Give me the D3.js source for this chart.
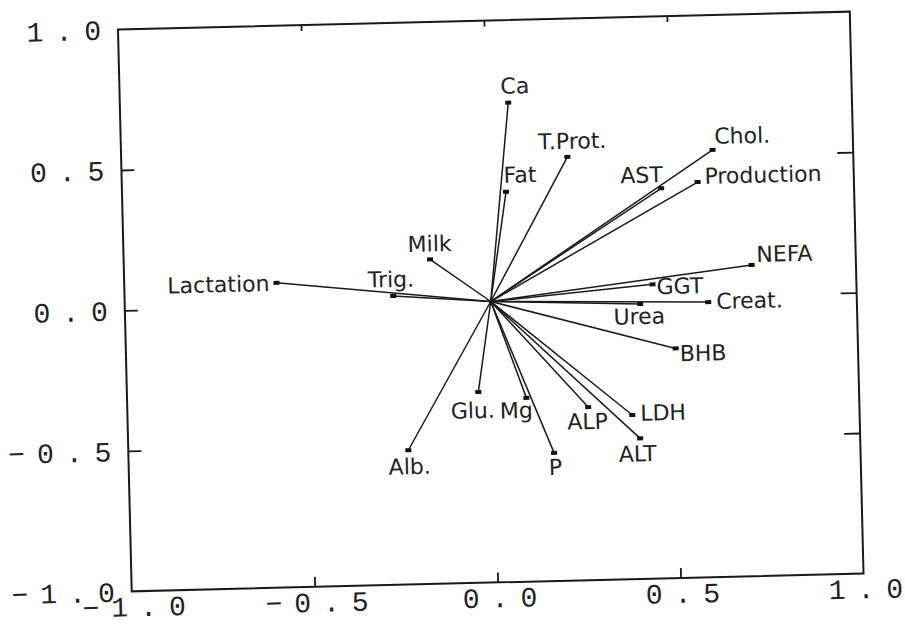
<!DOCTYPE html>
<html lang="en">
<head>
	<meta charset="UTF-8">
	<title>Loadings plot</title>
	<style>
		body { margin: 0; background: #fff; }
		.lbl { font-family: "DejaVu Sans", sans-serif; font-size: 22px; fill: #222; }
		.tk { font-family: "Liberation Mono", monospace; font-size: 28px; fill: #222; }
	</style>
</head>
<body>
	<svg id="chart" width="905" height="626"></svg>
	<script type="text/javascript" src="https://cdn.jsdelivr.net/npm/d3@7/dist/d3.min.js"></script>
	<script type="text/javascript">
		// variables and their loadings on the two factors
		var variables = ["Ca", "Fat", "T.Prot.", "Milk", "Trig.", "Lactation", "Chol.", "AST", "Production",
			"NEFA", "GGT", "Creat.", "Urea", "BHB", "Alb.", "Glu.", "Mg", "P", "ALP", "LDH", "ALT"];
		var factor1 = [0.061, 0.049, 0.219, -0.163, -0.266, -0.584, 0.616, 0.473, 0.573,
			0.715, 0.443, 0.594, 0.408, 0.502, -0.235, -0.040, 0.091, 0.163, 0.259, 0.379, 0.399];
		var factor2 = [0.706, 0.389, 0.508, 0.155, 0.028, 0.085, 0.520, 0.388, 0.407,
			0.107, 0.047, -0.021, -0.022, -0.183, -0.522, -0.321, -0.346, -0.544, -0.384, -0.416, -0.500];

		// axis ticks
		var tickValues = [-1, -0.5, 0, 0.5, 1];
		var tickLabels = ["\u22121.0", "\u22120.5", "0.0", "0.5", "1.0"];
		var innerTicks = [-0.5, 0, 0.5];

		// where each label sits relative to the end of its line: [dx, dy, anchor]
		var labelPlace = {
			"Ca": [7, -9, "middle"], "Fat": [-2, -9, "start"], "T.Prot.": [-29, -8, "start"],
			"Milk": [-22, -8, "start"], "Trig.": [-25, -9, "start"], "Lactation": [-7, 8, "end"],
			"Chol.": [2, -6, "start"], "AST": [2, -6, "end"], "Production": [7, 2, "start"],
			"NEFA": [5, -3, "start"], "GGT": [4, 10, "start"], "Creat.": [8, 7, "start"],
			"Urea": [-27, 20, "start"], "BHB": [4, 13, "start"], "Alb.": [1, 24, "middle"],
			"Glu.": [-28, 26, "start"], "Mg": [-27, 20, "start"], "P": [1, 22, "middle"],
			"ALP": [-1, 22, "middle"], "LDH": [8, 6, "start"], "ALT": [-3, 23, "middle"]
		};

		var cx = 490.75, cy = 301.5, hw = 366, hh = 281;
		var x = d3.scaleLinear().domain([-1, 1]).range([cx - hw, cx + hw]);
		var y = d3.scaleLinear().domain([-1, 1]).range([cy + hh, cy - hh]);

		var svg = d3.select("#chart");
		// the scanned page is slightly tilted
		var g = svg.append("g").attr("transform", "rotate(-1.4," + cx + "," + cy + ")");

		// frame
		g.append("rect")
			.attr("x", x(-1)).attr("y", y(1))
			.attr("width", x(1) - x(-1)).attr("height", y(-1) - y(1))
			.attr("fill", "none").attr("stroke", "#1a1a1a").attr("stroke-width", 2);

		// inward ticks on each side
		function ticks(axis, tr, len) {
			var a = g.append("g").attr("transform", tr)
				.call(axis.tickValues(innerTicks).tickSize(-len).tickFormat(""));
			a.select(".domain").remove();
			a.selectAll("line").attr("stroke", "#1a1a1a").attr("stroke-width", 1.8);
		}
		ticks(d3.axisLeft(y), "translate(" + x(-1) + ",0)", 13);
		ticks(d3.axisRight(y), "translate(" + x(1) + ",0)", 16);
		ticks(d3.axisBottom(x), "translate(0," + y(-1) + ")", 10);
		ticks(d3.axisTop(x), "translate(0," + y(1) + ")", 6);

		// wide plotter-style spacing between characters, no trailing gap
		function spacing(s) {
			return s.split("").map(function(c, i) { return i ? 12 : 0; }).join(" ");
		}

		// tick labels
		g.selectAll(".ytk").data(tickValues).enter().append("text")
			.attr("class", "tk")
			.attr("x", x(-1) - 17)
			.attr("y", function(d) { return y(d) + 10; })
			.attr("dx", function(d, i) { return spacing(tickLabels[i]); })
			.attr("text-anchor", "end")
			.text(function(d, i) { return tickLabels[i]; });
		g.selectAll(".xtk").data(tickValues).enter().append("text")
			.attr("class", "tk")
			.attr("x", function(d) { return x(d) + 2; })
			.attr("y", y(-1) + 25)
			.attr("dx", function(d, i) { return spacing(tickLabels[i]); })
			.attr("text-anchor", "middle")
			.text(function(d, i) { return tickLabels[i]; });

		// loading vectors
		var pts = variables.map(function(v, i) { return { name: v, a: factor1[i], b: factor2[i] }; });

		g.selectAll(".vec").data(pts).enter().append("line")
			.attr("x1", x(0)).attr("y1", y(0))
			.attr("x2", function(d) { return x(d.a); })
			.attr("y2", function(d) { return y(d.b); })
			.attr("stroke", "#1a1a1a").attr("stroke-width", 1.5);

		g.selectAll(".tip").data(pts).enter().append("rect")
			.attr("x", function(d) { return x(d.a) - 3; })
			.attr("y", function(d) { return y(d.b) - 2; })
			.attr("width", 6).attr("height", 4)
			.attr("fill", "#111");

		g.selectAll(".lbl").data(pts).enter().append("text")
			.attr("class", "lbl")
			.attr("x", function(d) { return x(d.a) + labelPlace[d.name][0]; })
			.attr("y", function(d) { return y(d.b) + labelPlace[d.name][1]; })
			.attr("text-anchor", function(d) { return labelPlace[d.name][2]; })
			.text(function(d) { return d.name; });
	</script>
</body>
</html>
